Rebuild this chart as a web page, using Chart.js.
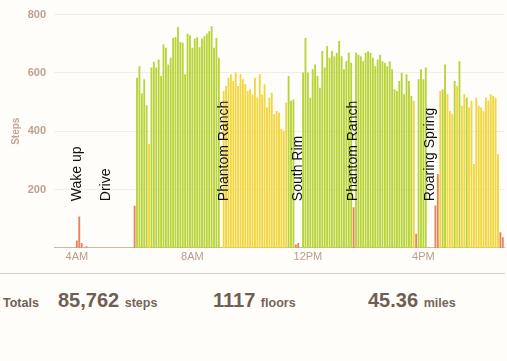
<!DOCTYPE html>
<html>
<head>
<meta charset="utf-8">
<script src="https://cdn.jsdelivr.net/npm/chart.js@4.4.1/dist/chart.umd.min.js"></script>
<style>
  html, body { margin: 0; padding: 0; background: #fffdf9; }
  body { width: 507px; height: 361px; overflow: hidden; font-family: 'Liberation Sans', Arial, sans-serif; }
  #wrap { position: absolute; left: 0; top: 0; width: 507px; height: 268px; }
  .sep { position: absolute; left: 0; top: 273px; width: 505px; height: 1px; background: #d3cdc6; }
  .tot { position: absolute; top: 288px; font-size: 20px; line-height: 24px; color: #6f5e53; font-weight: bold; white-space: nowrap; }
  .tot .lbl { font-size: 12.5px; }
  .tot .unit { font-size: 12.5px; color: #76665b; }
</style>
</head>
<body>
<div id="wrap"><canvas id="chart" width="507" height="268"></canvas></div>
<div class="sep"></div>
<div class="tot" style="left:3px"><span class="lbl">Totals</span></div>
<div class="tot" style="left:58px"><span>85,762</span> <span class="unit">steps</span></div>
<div class="tot" style="left:213px"><span>1117</span> <span class="unit">floors</span></div>
<div class="tot" style="left:368px"><span>45.36</span> <span class="unit">miles</span></div>

<script>
// 5-minute buckets, starting at 3:15AM
const firstSlotMinutes = 3 * 60 + 15;

// steps per 5 minutes (rows are hours)
const steps = [
  0, 0, 0, 0, 0, 0, 0, 0, 0,                                   // 3:15AM
  24, 106, 15, 0, 4, 0, 0, 0, 0, 0, 0, 0,                      // 4AM
  0, 0, 0, 0, 0, 0, 0, 0, 0, 0, 0, 0,                          // 5AM
  143, 582, 622, 528, 577, 488, 355, 617, 637, 617, 645, 588,  // 6AM
  696, 685, 628, 651, 719, 722, 756, 705, 702, 594, 733, 728,  // 7AM
  685, 717, 721, 687, 717, 725, 733, 742, 759, 685, 719, 651,  // 8AM
  0, 537, 554, 582, 594, 571, 600, 554, 594, 577, 560, 537,    // 9AM
  543, 525, 582, 514, 594, 525, 560, 480, 514, 531, 457, 468,  // 10AM
  463, 406, 400, 497, 588, 503, 508, 10, 15, 0, 600, 719,      // 11AM
  600, 514, 611, 628, 588, 548, 674, 617, 691, 651, 674, 656,  // 12PM
  668, 708, 656, 611, 640, 668, 634, 138, 668, 661, 656, 639,  // 1PM
  668, 673, 668, 651, 622, 645, 661, 639, 633, 622, 639, 611,  // 2PM
  543, 537, 571, 599, 526, 594, 571, 520, 503, 47, 577, 611,   // 3PM
  577, 617, 0, 0, 0, 144, 252, 537, 543, 628, 526, 468,        // 4PM
  457, 571, 554, 639, 486, 526, 514, 480, 503, 286, 514, 486,  // 5PM
  480, 468, 514, 503, 526, 520, 514, 320, 52, 35               // 6PM
];

// activity level per bucket: 0 none, 1 lightly, 2 fairly, 3 very active
const activity = [
  0, 0, 0, 0, 0, 0, 0, 0, 0,
  1, 1, 1, 0, 1, 0, 0, 0, 0, 0, 0, 0,
  0, 0, 0, 0, 0, 0, 0, 0, 0, 0, 0, 0,
  1, 3, 3, 3, 3, 3, 2, 3, 3, 3, 3, 3,
  3, 3, 3, 3, 3, 3, 3, 3, 3, 3, 3, 3,
  3, 3, 3, 3, 3, 3, 3, 3, 3, 3, 3, 3,
  0, 2, 2, 2, 2, 2, 2, 2, 2, 2, 2, 2,
  2, 2, 2, 2, 2, 2, 2, 2, 2, 2, 2, 2,
  2, 2, 2, 2, 3, 3, 3, 1, 1, 0, 3, 3,
  3, 3, 3, 3, 3, 3, 3, 3, 3, 3, 3, 3,
  3, 3, 3, 3, 3, 3, 3, 1, 3, 3, 3, 3,
  3, 3, 3, 3, 3, 3, 3, 3, 3, 3, 3, 3,
  3, 3, 3, 3, 3, 3, 3, 3, 2, 1, 3, 3,
  3, 3, 0, 0, 0, 1, 1, 2, 3, 3, 2, 2,
  2, 3, 2, 3, 2, 2, 3, 2, 2, 2, 2, 2,
  2, 2, 2, 2, 2, 2, 2, 2, 1, 1
];

const tickLabels = ['4AM', '8AM', '12PM', '4PM'];

const eventNames = ['Wake up', 'Drive', 'Phantom Ranch', 'South Rim', 'Phantom Ranch', 'Roaring Spring'];
const eventTimes = ['4AM', '5AM', '9:05AM', '11:40AM', '1:35PM', '4:15PM'];

const levelColors = ['rgba(0,0,0,0)', '#e6845c', '#f2d63e', '#b8d43a'];

function slotLabel(mins) {
  const h24 = Math.floor(mins / 60), m = mins % 60;
  const ampm = h24 < 12 ? 'AM' : 'PM';
  const h = h24 % 12 === 0 ? 12 : h24 % 12;
  return m === 0 ? h + ampm : h + ':' + String(m).padStart(2, '0') + ampm;
}

const timeSlots = steps.map((_, i) => slotLabel(firstSlotMinutes + i * 5));
const barColors = activity.map(a => levelColors[a]);

// vertical notes written over the bars
const eventNotes = {
  id: 'eventNotes',
  afterDatasetsDraw(chart) {
    const { ctx, scales } = chart;
    const yEnd = scales.y.getPixelForValue(160);
    ctx.save();
    ctx.fillStyle = '#111';
    ctx.font = '14px "Liberation Sans", Arial, sans-serif';
    ctx.textAlign = 'left';
    ctx.textBaseline = 'middle';
    eventNames.forEach((name, i) => {
      const x = scales.x.getPixelForValue(timeSlots.indexOf(eventTimes[i]));
      ctx.save();
      ctx.translate(x, yEnd);
      ctx.rotate(-Math.PI / 2);
      ctx.fillText(name, 0, 0);
      ctx.restore();
    });
    ctx.restore();
  }
};

new Chart(document.getElementById('chart'), {
  type: 'bar',
  data: {
    labels: timeSlots,
    datasets: [{
      data: steps,
      backgroundColor: barColors,
      borderWidth: 0,
      barThickness: 1.2
    }]
  },
  options: {
    responsive: false,
    animation: false,
    layout: { padding: { top: 11, right: 3, bottom: 1, left: 0 } },
    plugins: { legend: { display: false }, tooltip: { enabled: false } },
    scales: {
      x: {
        grid: { display: false, drawTicks: false },
        border: { color: '#cdbba6', width: 1 },
        ticks: {
          autoSkip: false,
          maxRotation: 0,
          padding: 3,
          color: '#b99d8e',
          font: { family: 'Liberation Sans', size: 11 },
          callback: (v, i) => tickLabels.includes(timeSlots[i]) ? timeSlots[i] : null
        }
      },
      y: {
        min: 0,
        max: 800,
        afterFit: s => { s.width = 54; },
        border: { display: false },
        grid: { color: '#f3ede3', drawTicks: false },
        ticks: {
          stepSize: 200,
          padding: 8,
          color: '#bf9f90',
          font: { family: 'Liberation Sans', size: 11, weight: 'bold' },
          callback: v => v === 0 ? null : v
        },
        title: {
          display: true,
          text: 'Steps',
          color: '#c4a494',
          padding: { top: 10, bottom: 0 },
          font: { family: 'Liberation Sans', size: 10, weight: 'bold' }
        }
      }
    }
  },
  plugins: [eventNotes]
});
</script>
</body>
</html>
